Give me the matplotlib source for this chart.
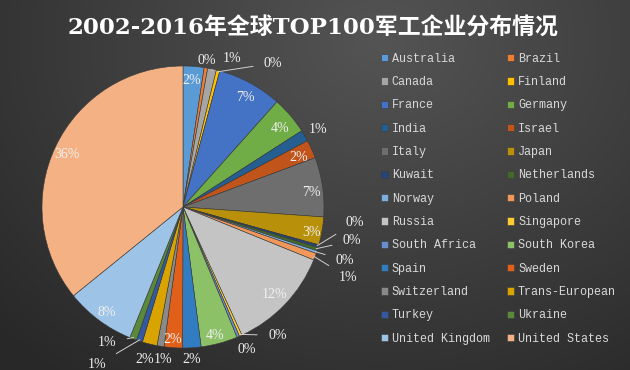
import matplotlib.pyplot as plt
import numpy as np

# --- DATA ---
countries = ['Australia', 'Brazil', 'Canada', 'Finland', 'France', 'Germany',
             'India', 'Israel', 'Italy', 'Japan', 'Kuwait', 'Netherlands',
             'Norway', 'Poland', 'Russia', 'Singapore', 'South Africa',
             'South Korea', 'Spain', 'Sweden', 'Switzerland', 'Trans-European',
             'Turkey', 'Ukraine', 'United Kingdom', 'United States']
shares = [2.4, 0.4, 1.0, 0.4, 7.4, 4.3,
          1.3, 2.1, 6.8, 3.2, 0.3, 0.4,
          0.3, 0.8, 12.0, 0.3, 0.3,
          4.2, 2.1, 2.1, 0.8, 1.7,
          0.7, 0.8, 8.0, 35.8]
colors = ['#5B9BD5', '#ED7D31', '#A5A5A5', '#FFC000', '#4472C4', '#70AD47',
          '#255E91', '#C0541A', '#6E6E6E', '#B8900A', '#264478', '#43682B',
          '#7CAFDD', '#F1975A', '#C4C4C4', '#FFCD33', '#698ED0',
          '#8CC168', '#327DC2', '#E0601A', '#8A8A8A', '#D9A300',
          '#335AA1', '#5A8A39', '#9DC3E6', '#F4B183']

TITLE = '2002-2016年全球TOP100军工企业分布情况'

# label placement (pie radius = 1); leader=True draws a connector line
label_pos = {
    'Australia': (0.06, 0.90, False), 'Brazil': (0.17, 1.04, False),
    'Canada': (0.35, 1.05, True), 'Finland': (0.64, 1.02, True),
    'France': (0.44, 0.78, False), 'Germany': (0.69, 0.56, False),
    'India': (0.96, 0.55, False), 'Israel': (0.82, 0.35, False),
    'Italy': (0.91, 0.10, False), 'Japan': (0.91, -0.18, False),
    'Kuwait': (1.22, -0.11, True), 'Netherlands': (1.20, -0.24, True),
    'Norway': (1.15, -0.38, True), 'Poland': (1.17, -0.50, True),
    'Russia': (0.65, -0.62, False), 'Singapore': (0.67, -0.91, True),
    'South Africa': (0.45, -1.01, False), 'South Korea': (0.23, -0.91, False),
    'Spain': (0.06, -1.08, False), 'Sweden': (-0.07, -0.94, False),
    'Switzerland': (-0.14, -1.08, False), 'Trans-European': (-0.27, -1.08, False),
    'Turkey': (-0.61, -1.12, True), 'Ukraine': (-0.54, -0.96, True),
    'United Kingdom': (-0.54, -0.75, False), 'United States': (-0.82, 0.37, False),
}

fig = plt.figure(figsize=(6.3, 3.7), dpi=100)

# background gradient
bg = fig.add_axes([0, 0, 1, 1], zorder=-10)
yy, xx = np.mgrid[0:370, 0:630]
d = np.sqrt(((xx - 380) / 520.0) ** 2 + ((yy - 40) / 420.0) ** 2)
d = np.clip(d, 0, 1)
shade = 0.33 - 0.17 * d
bg.imshow(np.dstack([shade, shade, shade]), aspect='auto', extent=[0, 1, 0, 1])
bg.axis('off')

ax = fig.add_axes([42 / 630, 22 / 370, 282 / 630, 282 / 370])
wedges, _ = ax.pie(shares, colors=colors, startangle=90, counterclock=False,
                   radius=1, wedgeprops=dict(edgecolor='#3a3a3a', linewidth=0.4))
ax.set_xlim(-1, 1)
ax.set_ylim(-1, 1)
ax.set_aspect('equal')
ax.axis('off')

total = sum(shares)
lbl_font = dict(family='Liberation Serif', size=10, color='#f0f0f0')
for w, name, v in zip(wedges, countries, shares):
    x, y, leader = label_pos[name]
    txt = '%d%%' % round(v / total * 100)
    if leader:
        mid = np.radians((w.theta1 + w.theta2) / 2)
        ax.annotate(txt, xy=(np.cos(mid) * 0.99, np.sin(mid) * 0.99), xytext=(x, y),
                    ha='center', va='center', **lbl_font,
                    arrowprops=dict(arrowstyle='-', color='#d0d0d0', lw=0.7,
                                    shrinkA=6, shrinkB=0))
    else:
        ax.text(x, y, txt, ha='center', va='center', **lbl_font)

fig.text(0.496, 0.925, TITLE, ha='center', va='center', color='white',
         fontsize=16.5, fontweight='bold',
         family=['DejaVu Serif', 'Noto Sans CJK SC'])

# legend, filled row by row
order = list(range(0, 26, 2)) + list(range(1, 26, 2))
leg = fig.legend([wedges[i] for i in order], [countries[i] for i in order],
                 ncol=2, loc='upper left', bbox_to_anchor=(0.588, 0.886),
                 frameon=False, handlelength=0.6, handleheight=0.6,
                 handletextpad=0.3, columnspacing=1.5, labelspacing=0.96,
                 prop=dict(family='Liberation Mono', size=8.5))
for t in leg.get_texts():
    t.set_color('#d9d9d9')

plt.savefig('out.png', dpi=100)
